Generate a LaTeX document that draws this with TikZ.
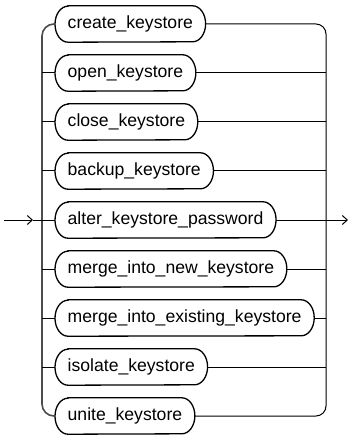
\documentclass[tikz,border=0pt]{standalone}
\usepackage{fontspec}
\setmainfont{Liberation Sans}
\usepackage{tikz}
\usetikzlibrary{
  positioning,
  arrows.meta,
  calc
}

\begin{document}
\begin{tikzpicture}[
  x=1pt, y=-1pt,
  font=\fontsize{17.6}{20}\selectfont,
  keyword/.style={
    minimum height=36pt,
    inner xsep=12.5pt,
    inner ysep=0pt,
    anchor=west
  },
  outline/.style={
    draw=black,
    line width=1.3pt
  },
  line/.style={
    draw=black,
    line width=1pt
  },
  lrail/.style={
    draw=black!70,
    line width=1.6pt,
    rounded corners=12pt
  },
  rrail/.style={
    draw=black,
    line width=1pt,
    rounded corners=10pt
  },
  flow/.style={
    line,
    -{Straight Barb[length=5pt,width=9pt]}
  }
]

\useasboundingbox (0,0) rectangle (350,438);

% Keyword boxes with oval ends
\foreach \i/\txt in {1/create\_keystore, 2/open\_keystore, 3/close\_keystore,
  4/backup\_keystore, 5/alter\_keystore\_password, 6/merge\_into\_new\_keystore,
  7/merge\_into\_existing\_keystore, 8/isolate\_keystore, 9/unite\_keystore} {
  \node[keyword] (b\i) at (55, {24 + 49*(\i-1)}) {\txt};
  \draw[outline] ([xshift=13pt]b\i.north west) -- ([xshift=-13pt]b\i.north east)
    arc[start angle=90, end angle=-90, x radius=13pt, y radius=18pt]
    -- ([xshift=13pt]b\i.south west)
    arc[start angle=270, end angle=90, x radius=13pt, y radius=18pt] -- cycle;
}

% Rails
\coordinate (lx) at (42,0);
\coordinate (rx) at (326,0);
\draw[lrail] (b1.west) -| (lx |- b9.west) -- (b9.west);
\draw[rrail] (b1.east) -| (rx |- b9.east) -- (b9.east);

% Branches
\foreach \i in {2,...,8} {
  \draw[line] (lx |- b\i.west) -- (b\i.west);
  \draw[line] (b\i.east) -- (rx |- b\i.east);
}

% Entry and exit
\coordinate (start) at (4, 220);
\coordinate (inarr) at (33, 220);
\coordinate (stop) at (348, 220);
\draw[flow] (start) -- (inarr);
\draw[line] (inarr) -- (b5.west);
\draw[flow] (b5.east) -- (stop);

\end{tikzpicture}
\end{document}
